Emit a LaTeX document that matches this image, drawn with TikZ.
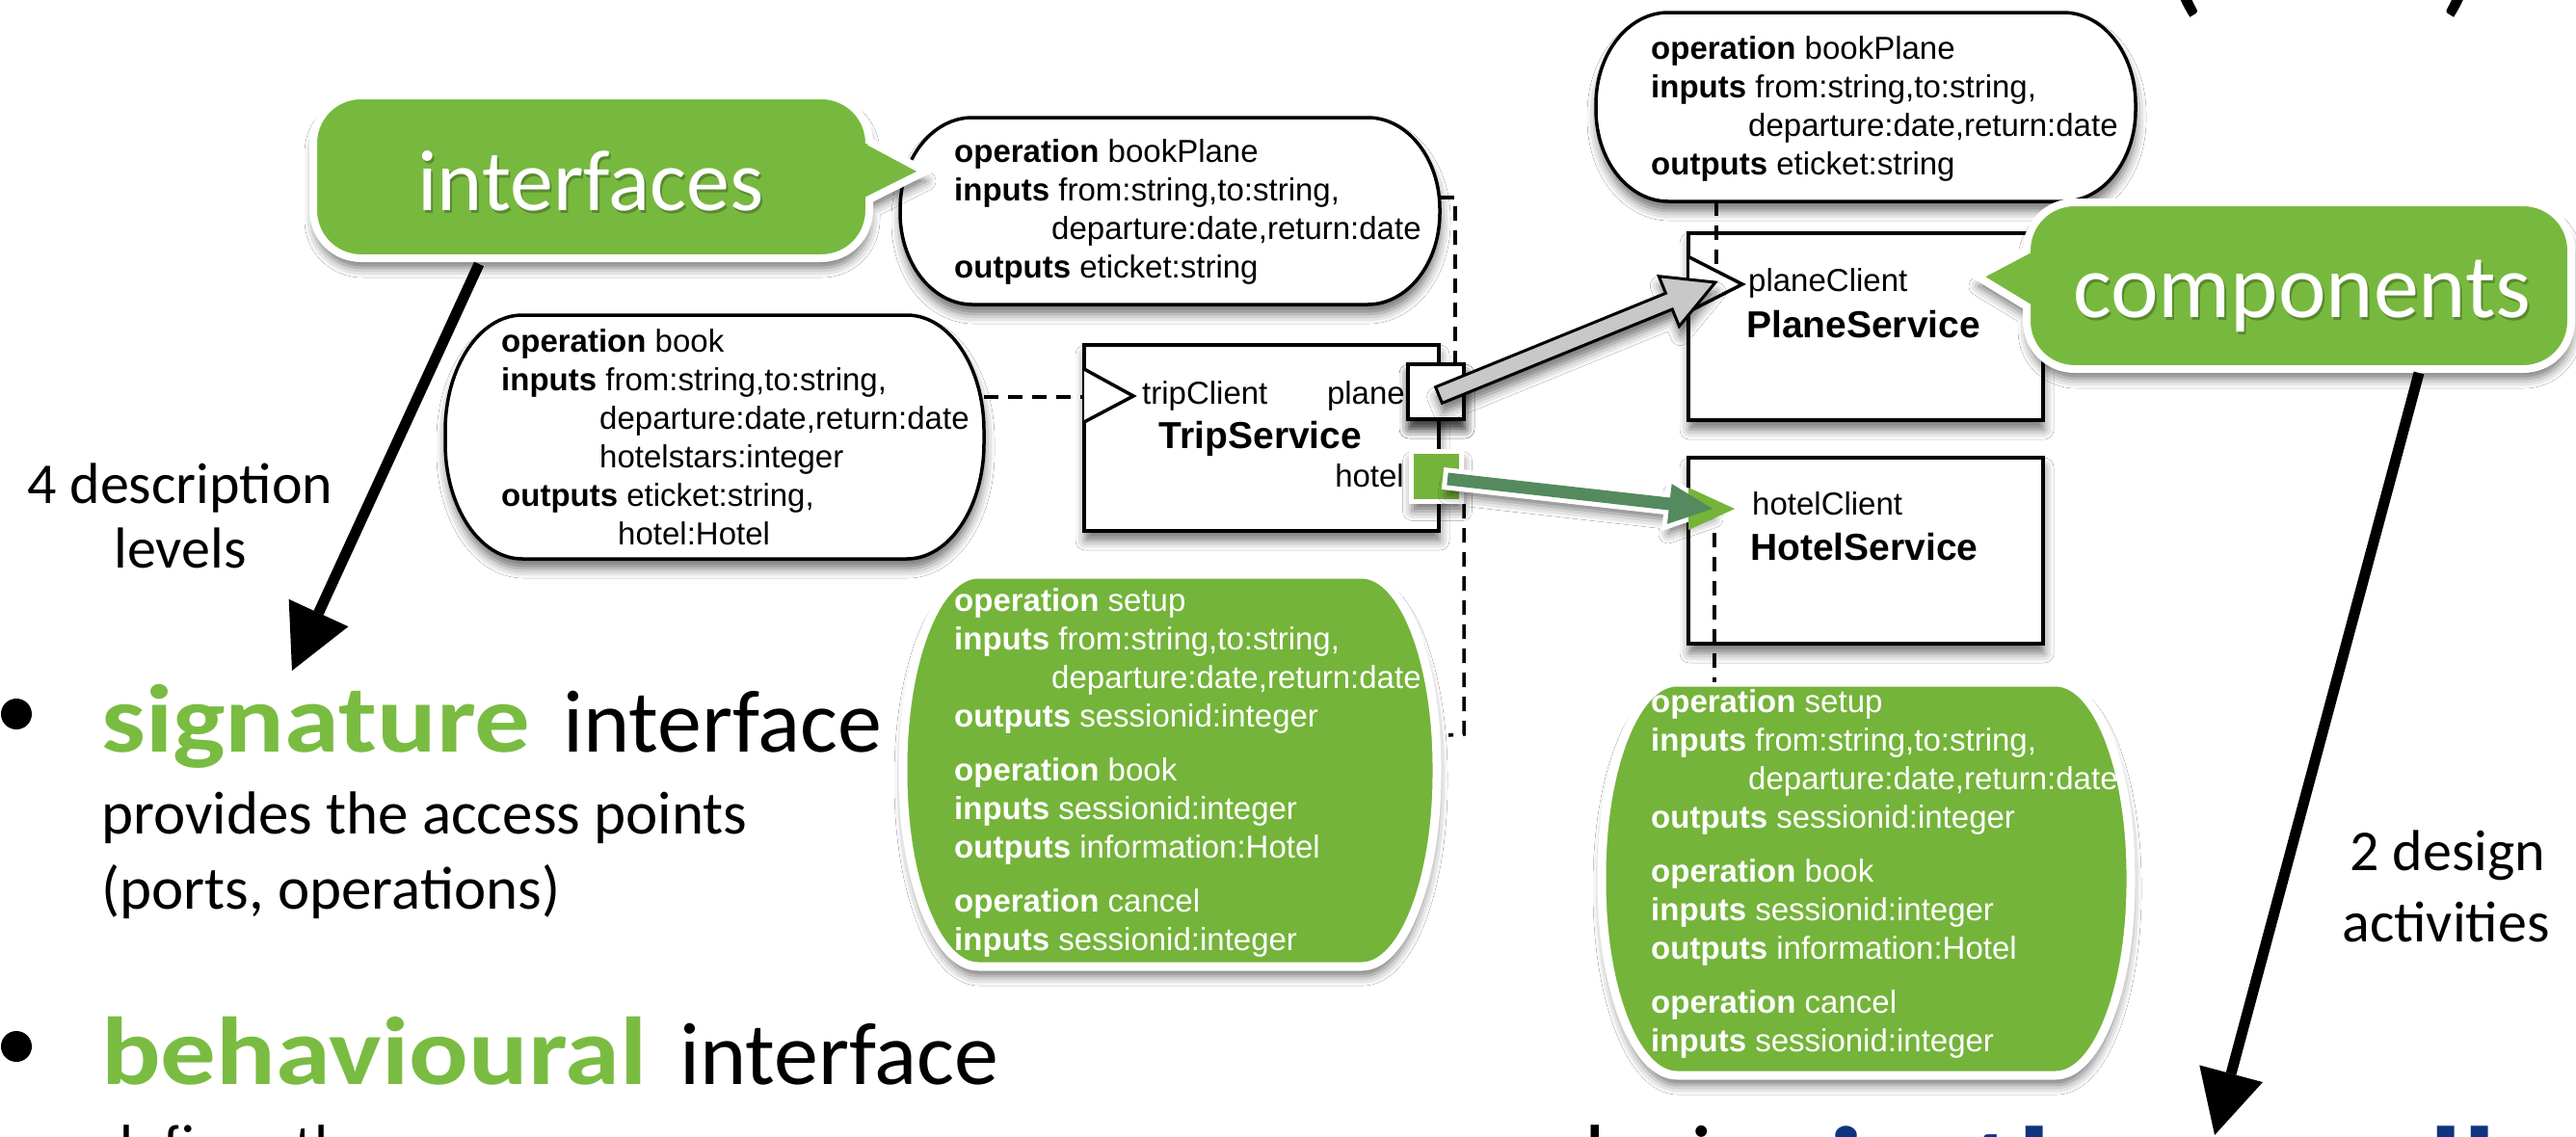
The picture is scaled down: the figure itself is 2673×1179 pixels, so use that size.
\documentclass[tikz,border=0pt]{standalone}
\usepackage{fontspec}
\setmainfont{Liberation Sans}
\newfontfamily\helv{Liberation Sans}
\newfontfamily\gill{Carlito}
\newfontfamily\gillwide[FakeStretch=1.15]{Carlito}
\usetikzlibrary{arrows.meta,calc,shadows.blur}

\definecolor{callgreen}{RGB}{119,185,63}
\definecolor{bubgreen}{RGB}{116,180,58}
\definecolor{sigreen}{RGB}{122,188,66}
\definecolor{linkgreen}{RGB}{84,138,94}
\definecolor{linkgray}{RGB}{200,200,200}
\definecolor{navy}{RGB}{16,52,128}

% oblong bubble: x1 y1 x2 y2 rx ry style
\newcommand\oblong[7]{%
  \path[#7] (#1+#5,#2) -- (#3-#5,#2)
    .. controls (#3-0.448*#5,#2) and (#3,#2+0.448*#6) .. (#3,#2+#6)
    -- (#3,#4-#6)
    .. controls (#3,#4-0.448*#6) and (#3-0.448*#5,#4) .. (#3-#5,#4)
    -- (#1+#5,#4)
    .. controls (#1+0.448*#5,#4) and (#1,#4-0.448*#6) .. (#1,#4-#6)
    -- (#1,#2+#6)
    .. controls (#1,#2+0.448*#6) and (#1+0.448*#5,#2) .. (#1+#5,#2) -- cycle;}

% block arrow: from, to, shaft half width, head half width, head length, style
\newcommand\blockarrow[6]{%
  \path[#6] ($(#1)!#3!90:(#2)$) -- ($(#2)!#5!(#1)!#3!-90:(#1)$)
    -- ($(#2)!#5!(#1)!#4!-90:(#1)$) -- (#2)
    -- ($(#2)!#5!(#1)!#4!90:(#1)$) -- ($(#2)!#5!(#1)!#3!90:(#1)$)
    -- ($(#1)!#3!-90:(#2)$) -- cycle;}

% operation lists shared by the two session interfaces
\newcommand\sessionops{\vtop{%
  \hbox{\textbf{operation} setup}
  \hbox{\textbf{inputs} from:string,to:string,}
  \hbox{\hspace*{101pt}departure:date,return:date}
  \hbox{\textbf{outputs} sessionid:integer}
  \vskip16pt
  \hbox{\textbf{operation} book}
  \hbox{\textbf{inputs} sessionid:integer}
  \hbox{\textbf{outputs} information:Hotel}
  \vskip16pt
  \hbox{\textbf{operation} cancel}
  \hbox{\textbf{inputs} sessionid:integer}}}
\newcommand\planeops{\vtop{%
  \hbox{\textbf{operation} bookPlane}
  \hbox{\textbf{inputs} from:string,to:string,}
  \hbox{\hspace*{101pt}departure:date,return:date}
  \hbox{\textbf{outputs} eticket:string}}}

\begin{document}
\begin{tikzpicture}[x=1pt,y=-1pt,
  shadowed/.style={blur shadow={shadow xshift=1pt,shadow yshift=-10pt,
      shadow blur radius=10pt,shadow opacity=55}},
  bubble/.style={draw=black,line width=3.5,fill=white,shadowed},
  gbubble/.style={draw=white,line width=9,fill=bubgreen,shadowed},
  callout/.style={draw=white,line width=8,fill=callgreen,shadowed},
  compbox/.style={draw=black,line width=4,fill=white,shadowed,inner sep=0pt},
  porttri/.style={draw=black,line width=3.5,fill=white,line join=miter},
  dashedconn/.style={draw=black,line width=3.5,dash pattern=on 15pt off 10pt},
  optext/.style={font=\helv\fontsize{33}{40}\selectfont,inner sep=0pt,anchor=base west},
  lbl/.style={font=\helv\fontsize{33}{40}\selectfont,inner sep=0pt},
  compname/.style={font=\helv\bfseries\fontsize{39}{46}\selectfont,inner sep=0pt},
  bigarrow/.style={line width=11,-{Triangle[length=66pt,width=68pt,line width=0pt,fill=black]}},
  note/.style={font=\gill\fontsize{60}{67}\selectfont,inner sep=0pt,anchor=base},
  big/.style={font=\gill\fontsize{92}{100}\selectfont,inner sep=0pt,anchor=base west},
  bigbold/.style={font=\gillwide\bfseries\fontsize{100}{110}\selectfont,inner sep=0pt,anchor=base west},
  body/.style={font=\gill\fontsize{63}{70}\selectfont,inner sep=0pt,anchor=base west},
  area/.style={inner sep=0pt,outer sep=0pt}]

\useasboundingbox (0,0) rectangle (2673,1179);
\fill[white] (0,0) rectangle (2673,1179);
\clip (0,0) rectangle (2673,1179);

% ---------------- title remnants ----------------
\node[font=\gill\fontsize{150}{150}\selectfont,inner sep=0pt,anchor=base west] (lparen) at (2242,-3) {(};
\node[font=\gill\fontsize{150}{150}\selectfont,inner sep=0pt,anchor=base west] (rparen) at (2531,-3) {)};

% ---------------- interface bubbles ----------------
\oblong{934}{122}{1494}{316}{75}{95}{bubble}
\node[area,minimum width=560,minimum height=194] (bp1) at (1214,219) {};
\node[optext] (bp1-text) at (990,168) {\planeops};

\oblong{462}{327}{1021}{580}{80}{120}{bubble}
\node[area,minimum width=559,minimum height=253] (bk) at (741.5,453.5) {};
\node[optext] (bk-text) at (520,365) {\vtop{%
  \hbox{\textbf{operation} book}
  \hbox{\textbf{inputs} from:string,to:string,}
  \hbox{\hspace*{102pt}departure:date,return:date}
  \hbox{\hspace*{102pt}hotelstars:integer}
  \hbox{\textbf{outputs} eticket:string,}
  \hbox{\hspace*{121pt}hotel:Hotel}}};

\oblong{1656}{13}{2216}{209}{75}{95}{bubble}
\node[area,minimum width=560,minimum height=196] (bp2) at (1936,111) {};
\node[optext] (bp2-text) at (1713,61) {\planeops};

\oblong{937}{596}{1491}{1003}{78}{200}{gbubble}
\node[area,minimum width=554,minimum height=407] (gs1) at (1214,799.5) {};
\node[optext,text=white] (gs1-text) at (990,634) {\sessionops};

\oblong{1662}{708}{2211}{1116}{78}{200}{gbubble}
\node[area,minimum width=549,minimum height=408] (gs2) at (1936.5,912) {};
\node[optext,text=white] (gs2-text) at (1713,739) {\sessionops};

% ---------------- components ----------------
\node[compbox,minimum width=368,minimum height=193] (ts) at (1309,454.5) {};
\node[compbox,minimum width=368,minimum height=194] (ps) at (1936,339) {};
\node[compbox,minimum width=368,minimum height=193] (hs) at (1936,571.5) {};

\path[porttri] (1125,383) -- (1176,411) -- (1125,438);
\coordinate (tc-in) at (1125,412);
\path[porttri] (1753,267) -- (1808,295) -- (1753,323);

\node[compbox,shadowed,line width=3.5,minimum width=58,minimum height=57] (planeport) at (1490,406.5) {};
\node[draw=white,line width=5,fill=bubgreen,minimum width=52,minimum height=52,inner sep=0pt,shadowed] (hotelport) at (1490.5,494.5) {};

\node[lbl,anchor=base west] (tc-lbl) at (1185,419) {tripClient};
\node[lbl,anchor=base east] (plane-lbl) at (1458,419) {plane};
\node[compname,anchor=base] (ts-name) at (1308,465) {TripService};
\node[lbl,anchor=base east] (hotel-lbl) at (1457,505) {hotel};
\node[lbl,anchor=base west] (pc-lbl) at (1814,302) {planeClient};
\node[compname,anchor=base west] (ps-name) at (1812,350) {PlaneService};
\node[lbl,anchor=base west] (hc-lbl) at (1818,534) {hotelClient};
\node[compname,anchor=base west] (hs-name) at (1816,581) {HotelService};

% ---------------- dashed attachments ----------------
\draw[dashedconn] (tc-in -| bk.east) -- (tc-in);
\coordinate (d2) at (1510,205);
\draw[dashedconn] (d2 -| bp1.east) -- (d2) -- (d2 |- planeport.north);
\coordinate (d3) at (1519,762);
\coordinate (d3end) at (1503,763);
\draw[dashedconn] (d3 |- hotelport.south) -- (d3) -- (d3end);
\coordinate (d4) at (1781,281);
\draw[dashedconn] (d4 |- bp2.south) -- (d4);
\coordinate (d5) at (1779,553);
\draw[dashedconn] (d5) -- (d5 |- gs2.north);

% ---------------- bindings ----------------
\coordinate (ga-from) at (1493,410);
\coordinate (ga-to) at (1780,293);
\blockarrow{ga-from}{ga-to}{9pt}{28pt}{52pt}{fill=linkgray,draw=black,line width=3,line join=miter,shadowed}

\coordinate (gr-from) at (1502,497);
\coordinate (gr-to) at (1777,528);
\blockarrow{gr-from}{gr-to}{6.5pt}{21pt}{45pt}{draw=white,line width=10,line join=miter,fill=white,shadowed}
\fill[bubgreen] (1752,506) -- (1800,528) -- (1752,550) -- cycle;
\blockarrow{gr-from}{gr-to}{6.5pt}{21pt}{45pt}{fill=linkgreen}

% ---------------- callouts ----------------
\path[callout] (325+50,99) -- (902-50,99) .. controls (902-22,99) and (902,99+22) .. (902,99+50)
  -- (902,147) -- (960,178) -- (902,207) -- (902,268-50)
  .. controls (902,268-22) and (902-22,268) .. (902-50,268) -- (325+50,268)
  .. controls (325+22,268) and (325,268-22) .. (325,268-50) -- (325,99+50)
  .. controls (325,99+22) and (325+22,99) .. (325+50,99) -- cycle;
\node[area,minimum width=577,minimum height=169] (interfaces) at (613.5,183.5) {};
\node[font=\gill\fontsize{90}{90}\selectfont,text=black,opacity=0.25,inner sep=0pt,anchor=base] at (615,221) {interfaces};
\node[font=\gill\fontsize{90}{90}\selectfont,text=white,inner sep=0pt,anchor=base] (interfaces-text) at (613,218) {interfaces};

\path[callout] (2103+50,210) -- (2668-50,210) .. controls (2668-22,210) and (2668,210+22) .. (2668,210+50)
  -- (2668,383-50) .. controls (2668,383-22) and (2668-22,383) .. (2668-50,383)
  -- (2103+50,383) .. controls (2103+22,383) and (2103,383-22) .. (2103,383-50)
  -- (2103,318) -- (2052,287) -- (2103,260) -- (2103,210+50)
  .. controls (2103,210+22) and (2103+22,210) .. (2103+50,210) -- cycle;
\node[area,minimum width=565,minimum height=173] (components) at (2385.5,296.5) {};
\node[font=\gill\fontsize{94}{94}\selectfont,text=black,opacity=0.25,inner sep=0pt,anchor=base] at (2391,332) {components};
\node[font=\gill\fontsize{94}{94}\selectfont,text=white,inner sep=0pt,anchor=base] (components-text) at (2389,329) {components};

% ---------------- left column ----------------
\node[note] (levels1) at (187,522) {4 description};
\node[note] (levels2) at (187,589) {levels};

\fill (17,741) circle (16);
\node[bigbold,text=sigreen] (sig) at (105,780) {signature};
\node[big] (sig-rest) at (584,780) {interface};
\node[body] (sig-desc1) at (105,865) {provides the access points};
\node[body] (sig-desc2) at (105,943) {(ports, operations)};

\fill (17,1086) circle (16);
\node[bigbold,text=sigreen] (beh) at (105,1125) {behavioural};
\node[big] (beh-rest) at (705,1125) {interface};
\node[body] (beh-desc) at (105,1211) {defines the};

\coordinate (a1-start) at (497,274);
\coordinate (a1-end) at (303,696);
\draw[bigarrow] (a1-start) -- (a1-end);

% ---------------- right column ----------------
\node[note] (act1) at (2540,903) {2 design};
\node[note] (act2) at (2538,977) {activities};
\coordinate (a2-start) at (2510,387);
\coordinate (a2-end) at (2298,1178);
\draw[bigarrow] (a2-start) -- (a2-end);

\node[font=\gill\fontsize{99}{110}\selectfont,inner sep=0pt,anchor=base west] (design) at (1614,1236) {design};
\node[font=\gillwide\bfseries\fontsize{125}{130}\selectfont,text=navy,inner sep=0pt,anchor=base west] (design-small) at (1898,1256) {in the small};
\end{tikzpicture}
\end{document}
